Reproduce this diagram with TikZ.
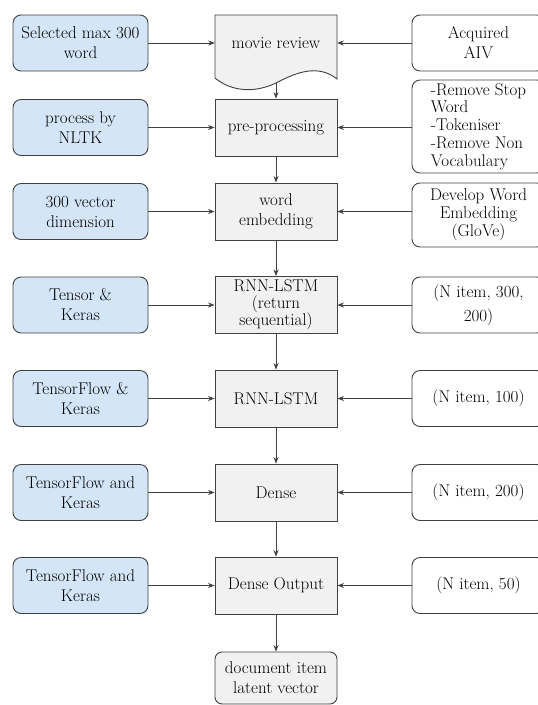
\documentclass[tikz,border=0pt]{standalone}
\usetikzlibrary{arrows.meta}
\definecolor{toolblue}{HTML}{D3E5F6}
\definecolor{layergrey}{HTML}{F1F1F1}
\definecolor{edgegrey}{HTML}{404040}

\begin{document}
\begin{tikzpicture}[x=1pt,y=1pt,
  every node/.style={font=\fontsize{17}{20}\selectfont,align=center,inner sep=1pt},
  tool/.style={draw=edgegrey,fill=toolblue,rounded corners=8pt,line width=0.9pt,minimum width=135pt,minimum height=56pt},
  layer/.style={draw=edgegrey,fill=layergrey,line width=0.9pt,minimum width=122pt,minimum height=57pt},
  param/.style={draw=edgegrey,fill=white,rounded corners=8pt,line width=0.9pt,minimum width=133pt,minimum height=56pt},
  flow/.style={draw=edgegrey,line width=0.9pt,-{Stealth[length=6.5pt,width=5pt]}}]
  \useasboundingbox (0,0) rectangle (538,-705);

  % movie review (document shape)
  \filldraw[draw=edgegrey,fill=layergrey,line width=0.9pt] (215,-15) -- (337,-15) -- (337,-79)
    .. controls (318,-64) and (297,-72) .. (276,-83)
    .. controls (255,-93) and (232,-92) .. (215,-78) -- cycle;
  \node[minimum width=122pt,minimum height=56pt] (mr) at (276,-43) {movie review};
  \coordinate (mrbot) at (276,-83);

  % middle column
  \node[layer] (pre) at (276,-127.5) {pre-processing};
  \node[layer] (emb) at (276,-211.5) {word\\embedding};
  \node[layer,font=\fontsize{17}{17}\selectfont] (lstma) at (276,-305) {RNN-LSTM\\(return\\sequential)};
  \node[layer] (lstmb) at (276,-398.5) {RNN-LSTM};
  \node[layer] (dense) at (276,-492.5) {Dense};
  \node[layer] (dout) at (276,-585.5) {Dense Output};
  \node[layer,rounded corners=7pt,minimum height=52pt] (latent) at (276,-678) {document item\\latent vector};

  % left column
  \node[tool] (t1) at (80.5,-43) {Selected max 300\\word};
  \node[tool] (t2) at (80.5,-127.5) {process by\\NLTK};
  \node[tool] (t3) at (80.5,-211.5) {300 vector\\dimension};
  \node[tool] (t4) at (80.5,-305) {Tensor \&\\Keras};
  \node[tool] (t5) at (80.5,-398.5) {TensorFlow \&\\Keras};
  \node[tool] (t6) at (80.5,-492.5) {TensorFlow and\\Keras};
  \node[tool] (t7) at (80.5,-585.5) {TensorFlow and\\Keras};

  % right column
  \node[param] (p1) at (478.5,-43) {Acquired\\AIV};
  \node[param,minimum height=93pt,align=left,font=\fontsize{17}{17.8}\selectfont] (p2) at (478.5,-126.5)
    {-Remove Stop\\Word\\-Tokeniser\\-Remove Non\\Vocabulary};
  \node[param,minimum height=64pt,font=\fontsize{17}{18}\selectfont] (p3) at (478.5,-215) {Develop Word\\Embedding\\(GloVe)};
  \node[param] (p4) at (478.5,-305) {(N item, 300,\\[4pt]200)};
  \node[param] (p5) at (478.5,-398.5) {(N item, 100)};
  \node[param] (p6) at (478.5,-492.5) {(N item, 200)};
  \node[param] (p7) at (478.5,-585.5) {(N item, 50)};

  % main flow
  \draw[flow] (mrbot) -- (pre);
  \draw[flow] (pre) -- (emb);
  \draw[flow] (emb) -- (lstma);
  \draw[flow] (lstma) -- (lstmb);
  \draw[flow] (lstmb) -- (dense);
  \draw[flow] (dense) -- (dout);
  \draw[flow] (dout) -- (latent);

  % inputs from the sides
  \draw[flow] (t1) -- (mr.west);
  \draw[flow] (t2) -- (pre);
  \draw[flow] (t3) -- (emb);
  \draw[flow] (t4) -- (lstma);
  \draw[flow] (t5) -- (lstmb);
  \draw[flow] (t6) -- (dense);
  \draw[flow] (t7) -- (dout);
  \draw[flow] (p1) -- (mr.east);
  \draw[flow] (p2.west |- pre) -- (pre);
  \draw[flow] (p3.west |- emb) -- (emb);
  \draw[flow] (p4) -- (lstma);
  \draw[flow] (p5) -- (lstmb);
  \draw[flow] (p6) -- (dense);
  \draw[flow] (p7) -- (dout);
\end{tikzpicture}
\end{document}
